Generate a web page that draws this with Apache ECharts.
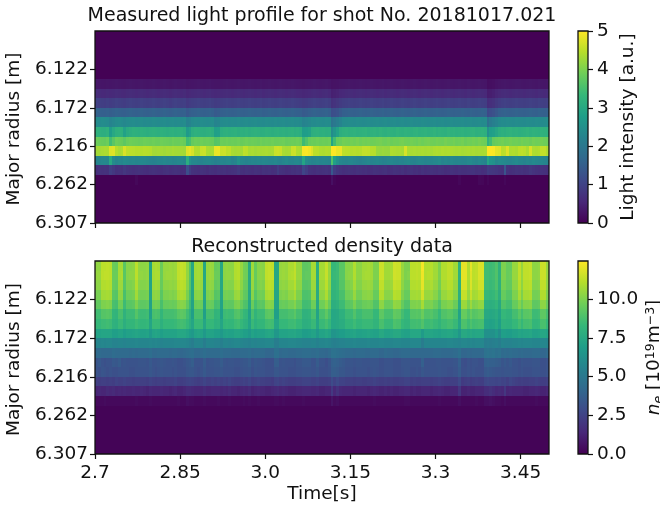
<!DOCTYPE html>
<html><head><meta charset="utf-8"><style>html,body{margin:0;padding:0;background:#fff}#c{width:660px;height:508px}</style>
<script src="https://cdn.jsdelivr.net/npm/echarts@6/dist/echarts.min.js"></script></head><body><div id="c"></div>
<script>
const viridis=['#440154','#482878','#3e4989','#31688e','#26828e','#1f9e89','#35b779','#6ece58','#b5de2b','#fde725'];
// measured light, one list per radial row that varies, in 0.01 a.u.
const lightFloorTop=2, lightFloorBottom=1;
const light5=[31,30,29,28,30,29,30,31,30,29,28,30,31,30,29,30,31,30,29,30,31,30,29,30,31,30,28,30,31,30,29,30,27,28,29,30,31,30,29,30,31,29,28,28,29,30,31,30,29,30,31,30,29,30,31,30,29,30,31,29,30,31,30,29,30,31,30,29,30,31,30,29,28,27,28,29,30,31,30,29,30,31,29,24,25,26,28,29,30,31,30,29,30,31,30,29,30,31,30,29,30,31,29,30,31,30,29,30,31,30,29,30,31,30,29,30,31,30,29,30,31,30,29,30,31,30,29,30,31,30,29,31,30,29,30,31,30,29,19,20,22,26,28,30,31,30,29,30,31,31,30,29,30,31,30,29,31,30,29,30];
const light6=[62,60,58,57,60,58,59,62,60,58,57,60,62,60,58,60,62,60,58,60,62,60,58,60,62,60,57,60,62,60,58,60,54,57,59,60,62,60,58,60,62,58,56,57,59,60,62,60,58,60,62,60,58,60,62,60,58,60,62,58,60,62,60,58,60,62,60,58,60,62,60,58,57,54,56,58,60,62,60,58,60,62,58,44,47,50,56,58,60,62,60,58,60,62,60,58,60,62,60,58,60,62,58,60,62,60,58,60,62,60,58,60,62,60,58,60,62,60,58,60,62,60,58,60,62,60,58,60,62,60,58,62,60,58,60,62,60,58,40,42,46,52,57,60,62,60,58,60,62,60,60,58,60,62,60,58,62,60,58,60];
const light7=[97,95,92,90,95,90,93,97,95,92,90,95,97,95,92,95,97,95,92,95,97,95,92,95,97,95,90,95,97,95,92,95,84,90,93,95,97,95,92,95,97,92,88,90,93,95,97,95,92,95,97,95,92,95,97,95,92,95,97,92,95,97,95,92,95,97,95,92,95,97,95,92,90,86,88,92,95,97,95,92,95,97,92,70,74,80,88,92,95,97,95,92,95,97,95,92,95,97,95,92,95,97,92,95,97,95,92,95,97,95,92,95,97,95,92,95,97,95,92,95,97,95,92,95,97,95,92,95,97,95,92,97,95,92,95,97,95,92,64,68,72,82,90,95,97,95,92,95,97,95,95,92,95,97,95,92,97,95,92,95];
const light8=[158,155,152,150,155,148,152,158,155,152,150,155,158,155,152,155,158,155,152,155,158,155,152,155,158,155,150,155,158,155,152,155,140,148,152,155,158,155,152,155,158,152,142,145,152,155,158,155,152,155,158,155,152,155,158,155,152,155,158,152,155,158,155,152,155,158,155,152,155,158,155,152,150,142,145,150,155,158,155,152,155,158,150,118,122,128,142,152,155,158,155,152,155,158,155,152,155,158,155,152,155,158,152,155,158,155,152,155,158,155,152,155,158,155,152,155,158,155,152,155,158,155,152,155,158,155,152,155,155,158,155,152,158,155,152,155,158,155,112,118,125,138,150,155,158,155,152,155,158,155,155,152,155,158,155,152,158,155,152,155];
const light9=[240,238,242,240,238,225,232,240,242,238,232,238,240,242,238,240,242,238,240,238,242,240,238,240,242,238,240,242,238,240,238,242,220,225,236,240,238,242,240,238,240,242,225,228,238,240,242,238,240,238,242,238,240,242,238,240,242,238,240,238,242,240,238,242,238,240,242,238,240,242,238,240,236,222,226,232,240,238,242,240,238,242,240,190,200,212,225,238,240,242,240,238,242,240,238,240,242,238,240,242,238,240,242,238,240,242,238,240,242,238,240,242,238,240,238,242,240,238,240,242,238,240,242,238,240,242,238,240,240,242,238,240,242,238,240,242,238,240,185,205,215,225,236,240,238,242,240,238,242,240,240,238,242,240,238,242,240,238,240,242];
const light10=[318,315,312,310,318,275,300,315,318,316,285,305,312,318,316,314,318,316,312,315,318,316,314,318,315,312,316,318,314,315,318,312,270,285,312,318,316,314,312,315,318,312,280,282,310,315,318,314,316,318,312,316,314,318,312,315,318,316,312,314,318,315,312,316,318,314,315,312,316,318,312,315,310,275,278,285,312,316,318,314,316,312,314,240,262,285,312,318,320,316,318,320,316,318,320,322,316,318,320,316,322,318,316,320,318,316,322,318,316,320,318,316,320,322,316,318,320,316,318,322,316,320,318,316,322,318,320,316,318,320,316,318,320,322,316,318,320,316,250,278,282,295,310,316,312,318,320,316,318,314,316,318,322,316,320,318,316,320,318,316];
const light11=[388,385,382,380,386,345,370,388,385,382,372,384,388,386,385,382,384,388,386,385,388,385,384,388,386,385,382,388,385,384,388,384,342,352,380,386,384,388,385,386,384,382,365,368,386,385,388,384,386,385,388,382,385,388,384,386,385,382,388,384,386,385,388,384,385,386,388,382,384,386,385,388,384,340,360,382,386,385,388,384,386,385,388,290,345,380,384,392,390,388,392,390,394,388,392,390,392,388,390,392,394,390,388,392,386,390,388,392,394,390,388,392,390,386,392,388,392,394,390,388,392,390,388,394,390,388,392,386,388,392,385,390,388,392,388,394,390,386,320,345,380,385,388,392,386,388,392,388,390,386,392,388,390,385,392,388,390,392,388,386];
const light12=[430,432,435,438,436,475,478,445,435,440,472,452,450,448,445,446,444,447,445,443,432,430,433,431,428,432,430,434,431,430,432,429,475,482,470,442,440,460,462,437,434,436,485,487,460,462,450,452,436,433,435,432,452,450,434,436,432,435,433,434,436,433,435,460,462,458,436,433,435,460,462,440,438,495,497,490,475,450,448,440,438,442,440,500,500,485,485,452,450,448,445,447,444,446,455,456,454,446,445,422,420,423,421,420,440,438,435,436,433,470,436,434,436,433,435,437,434,436,433,438,440,438,441,439,440,438,436,434,436,433,435,437,434,436,433,435,434,436,500,502,498,480,478,450,452,475,440,442,438,450,452,448,436,470,440,438,442,455,456,440];
const light13=[225,228,232,235,230,300,240,225,232,228,238,235,230,232,228,230,235,232,228,225,222,225,230,228,232,226,230,225,228,232,235,228,310,250,235,232,228,225,230,232,235,228,220,225,230,228,232,235,222,228,252,230,226,222,228,232,230,235,228,232,230,226,228,232,225,222,230,236,228,226,232,235,228,290,240,232,225,228,232,226,230,228,224,360,280,250,232,228,225,230,232,226,222,218,224,228,232,226,230,235,228,222,225,230,232,228,224,230,226,232,236,228,225,230,234,232,226,230,228,232,235,240,226,232,228,234,230,228,230,226,228,234,240,232,226,236,230,222,290,258,252,230,240,236,232,228,226,232,238,230,230,225,232,228,236,230,226,232,228,225];
const light14=[68,72,70,72,70,92,82,70,72,70,80,72,70,68,70,72,70,68,66,70,72,70,68,66,70,72,68,70,72,70,66,68,120,88,72,70,68,72,70,66,72,70,68,72,70,72,68,70,72,74,82,70,68,72,70,68,72,70,66,72,70,72,68,70,88,72,70,66,68,72,70,74,72,105,90,72,70,68,72,70,72,74,70,140,90,78,72,68,70,72,70,68,72,70,68,70,66,68,72,70,68,70,72,66,68,72,70,68,72,66,70,72,68,70,66,72,68,70,72,70,68,72,70,66,68,72,70,68,72,70,70,72,74,76,70,72,68,70,88,82,80,78,72,70,130,72,68,70,74,72,74,70,72,80,74,70,68,72,70,68];
const light15=[2,2,2,2,2,2,2,2,2,2,2,2,2,2,10,2,2,2,2,2,2,2,2,2,2,2,2,2,2,2,2,2,2,2,2,2,2,2,2,2,2,2,2,2,2,2,2,2,2,2,2,2,2,2,2,2,2,2,2,2,2,2,2,2,2,2,2,2,2,2,2,2,2,2,2,2,2,2,2,2,2,2,2,22,6,2,2,2,2,2,2,2,2,2,2,2,2,2,2,2,2,2,2,2,2,2,2,2,2,2,2,2,2,2,2,2,2,2,2,2,2,2,2,2,2,2,2,2,9,2,2,2,2,2,2,10,8,2,8,2,2,2,2,2,9,2,2,2,2,2,2,2,2,2,2,2,2,2,2,2];
// reconstructed density, one list per radial row that varies, in 10^18 m^-3
const ne0=[104,104,112,112,113,112,96,95,108,108,92,102,102,103,112,104,103,103,104,72,108,109,108,96,105,105,106,105,106,113,114,113,104,92,74,107,108,107,74,105,106,105,95,96,74,103,104,103,103,110,111,105,98,97,76,107,95,102,103,102,113,114,113,74,74,105,106,105,109,109,113,105,105,93,93,94,108,108,78,108,108,114,105,83,83,85,92,92,102,102,103,110,103,103,107,107,108,107,100,100,115,115,107,107,108,116,115,115,105,100,100,112,112,113,112,123,110,110,111,107,107,100,110,110,113,113,107,107,80,120,120,110,120,112,113,118,118,86,86,85,86,90,80,100,100,95,95,105,105,113,105,113,113,114,103,103,104,115,115,105];
const ne1=[105,105,112,113,113,112,96,96,108,109,92,102,103,103,112,104,104,103,104,72,108,109,109,96,105,106,106,105,106,113,114,113,104,92,74,107,108,107,74,105,106,105,96,96,74,103,104,104,103,110,111,105,98,97,76,107,95,102,103,102,113,114,114,74,74,105,106,105,109,110,113,105,105,93,94,94,108,108,78,108,108,114,105,83,84,85,92,92,102,103,103,110,103,103,107,108,108,107,100,100,115,115,107,107,108,116,115,115,105,100,101,112,112,113,112,122,110,111,111,107,107,100,110,110,113,113,107,107,80,120,120,110,119,112,113,118,118,86,86,85,86,90,80,100,100,95,96,105,105,113,105,113,113,114,103,103,104,115,115,105];
const ne2=[103,103,110,110,111,110,95,94,106,106,91,100,100,101,110,102,101,101,102,72,106,107,106,95,103,103,104,103,104,111,112,111,102,91,74,105,106,105,74,103,104,103,94,95,74,101,102,101,101,108,109,103,96,95,76,105,94,100,101,100,111,112,111,74,74,103,104,103,107,107,111,103,103,92,92,93,106,106,77,106,106,112,103,82,82,84,91,91,100,100,101,108,101,101,105,105,106,105,98,98,113,113,105,105,106,114,113,113,103,98,98,110,110,111,110,120,108,108,109,105,105,98,108,108,111,111,105,105,79,118,118,108,118,110,111,116,116,85,85,84,85,89,79,98,98,94,94,103,103,111,103,111,111,112,101,101,102,113,113,103];
const ne3=[99,99,107,107,108,107,92,91,103,103,88,97,97,98,107,99,98,98,99,72,103,104,103,92,100,100,101,100,101,108,109,108,99,88,73,102,103,102,73,100,101,100,91,92,73,98,99,98,98,105,106,100,94,93,75,102,91,97,98,97,108,109,108,73,73,100,101,100,104,104,108,100,100,89,89,90,103,103,76,103,103,109,100,81,81,83,88,88,97,97,98,105,98,98,102,102,103,102,95,95,110,110,102,102,103,111,110,110,100,95,95,107,107,108,107,116,105,105,106,102,102,95,105,105,108,108,102,102,78,114,114,105,114,107,108,112,112,83,83,82,83,86,78,95,95,91,91,100,100,108,100,108,108,109,98,98,99,110,110,100];
const ne4=[94,94,100,100,101,100,88,87,97,97,85,92,92,93,100,94,93,93,94,71,97,98,97,88,95,95,96,95,96,101,102,101,94,85,72,96,97,96,72,95,96,95,87,88,72,93,94,93,93,99,100,95,90,89,74,96,87,92,93,92,101,102,101,72,72,95,96,95,98,98,101,95,95,86,86,87,97,97,75,97,97,102,95,78,78,80,85,85,92,92,93,99,93,93,96,96,97,96,90,90,103,103,96,96,97,104,103,103,95,90,90,100,100,101,100,108,99,99,100,96,96,90,99,99,101,101,96,96,76,106,106,99,106,100,101,104,104,79,79,78,79,82,75,90,90,87,87,95,95,101,95,101,101,102,93,93,94,103,103,95];
const ne5=[86,86,91,91,92,91,82,81,88,88,80,85,85,85,91,86,85,85,86,70,88,89,88,82,87,87,87,87,88,92,93,92,86,80,70,88,88,88,70,87,87,87,81,82,70,85,86,85,85,90,91,87,83,82,71,88,81,85,85,85,92,93,92,70,70,87,87,87,89,89,92,87,87,80,80,81,88,88,72,88,88,93,87,74,74,75,79,79,85,85,85,90,85,85,88,88,88,88,83,83,93,93,88,88,88,94,93,93,87,83,83,91,91,92,91,96,90,90,91,88,88,83,90,90,92,92,88,88,72,95,95,90,95,91,92,94,94,75,75,74,75,77,72,83,83,81,81,87,87,92,87,92,92,93,85,85,86,93,93,87];
const ne6=[83,83,85,85,86,85,80,79,84,84,78,82,82,82,85,83,82,82,83,73,84,84,84,79,83,83,83,83,84,86,87,86,83,78,73,84,84,84,73,83,83,83,79,80,73,82,83,82,82,85,86,83,80,79,72,84,79,82,82,82,86,87,86,73,73,83,83,83,85,85,86,83,83,78,78,79,84,84,73,84,84,87,83,74,74,75,77,77,82,82,82,85,82,82,84,84,84,84,81,81,88,88,84,84,84,89,88,88,83,81,81,86,86,87,86,90,85,85,86,84,84,81,85,85,87,87,84,84,73,89,89,85,89,86,87,88,88,72,72,71,72,75,70,80,80,79,79,83,83,87,83,87,87,88,82,82,83,88,88,83];
const ne7=[72,72,73,73,73,73,70,70,72,72,69,71,71,72,73,72,71,71,72,67,72,73,72,70,72,72,72,72,72,74,74,74,72,69,67,72,73,72,67,72,72,72,70,70,67,71,72,71,71,73,73,72,70,70,67,72,70,71,71,71,73,74,73,66,66,72,72,72,73,73,74,72,72,69,69,70,72,72,67,72,72,74,72,65,65,67,69,69,71,71,72,73,71,71,72,72,73,72,71,71,75,75,72,72,73,75,75,75,72,71,71,74,74,74,74,68,73,73,73,72,72,71,73,73,74,74,72,72,66,75,75,73,75,73,74,74,74,63,63,63,63,67,61,70,70,69,69,71,71,73,72,73,73,74,71,71,72,74,74,72];
const ne8=[57,57,58,57,58,58,56,56,57,57,56,57,57,57,58,57,57,57,57,58,57,58,57,56,57,57,57,57,58,58,58,58,57,55,53,57,57,57,53,57,57,57,56,56,54,57,57,56,57,58,58,57,56,56,55,57,56,57,57,57,58,58,58,53,53,57,57,57,58,58,58,57,57,56,56,56,57,57,55,57,57,58,57,55,54,55,56,56,57,57,57,58,57,57,57,57,58,57,57,57,58,58,57,57,57,58,58,58,57,57,57,58,58,58,58,52,57,57,57,57,57,57,57,57,58,58,57,57,56,58,58,57,58,57,58,58,58,53,54,53,54,55,53,57,56,56,56,57,57,58,57,58,58,58,57,57,57,58,58,57];
const ne9=[43,43,42,42,42,42,44,43,43,43,43,43,42,43,42,43,43,43,43,45,42,42,43,43,43,43,42,43,43,42,41,42,43,44,45,42,42,43,45,43,43,43,43,43,45,43,43,43,42,42,42,43,43,43,44,42,43,43,43,43,41,41,41,46,46,42,43,43,42,42,42,43,43,44,44,44,43,43,44,42,42,41,43,47,47,46,45,44,43,43,43,42,43,43,43,42,42,43,43,43,41,41,43,42,42,41,41,42,43,43,43,42,42,42,42,42,42,42,42,43,43,43,42,42,42,42,43,43,46,41,41,42,41,42,42,42,42,47,48,47,48,46,47,43,44,43,44,43,43,42,43,42,42,42,43,43,43,41,41,43];
const ne10=[33,35,32,31,32,32,35,34,36,32,33,32,32,32,32,33,33,33,32,35,32,32,33,34,33,32,32,33,32,31,31,32,34,35,37,32,32,32,36,32,33,33,34,34,36,33,32,33,33,32,32,33,34,34,36,32,34,33,33,32,31,31,31,37,37,32,33,32,32,32,31,33,33,35,35,35,32,32,36,32,32,30,33,38,39,38,36,35,33,33,33,32,33,33,32,32,32,33,33,33,31,31,32,32,32,31,31,31,33,33,33,32,32,32,32,38,32,32,32,32,33,33,32,32,32,32,33,33,38,31,30,32,31,32,32,31,31,38,39,38,38,37,36,33,35,33,35,32,32,31,33,32,32,32,33,33,33,31,31,32];
const ne11=[32,31,33,32,31,32,31,31,32,32,32,32,31,31,32,32,32,32,32,34,32,31,32,33,32,32,32,31,32,31,31,31,33,34,34,32,31,32,35,32,32,32,33,33,34,32,32,32,32,31,31,32,33,33,34,31,33,32,32,32,31,31,31,34,34,32,32,32,31,31,31,32,32,33,33,33,32,32,34,31,31,31,32,37,37,36,34,34,32,32,32,31,32,32,32,32,31,32,33,32,31,31,32,32,32,31,31,31,32,33,33,31,31,32,31,34,32,32,32,32,32,33,32,32,31,31,32,32,36,31,31,32,31,32,31,31,31,35,36,35,34,33,33,32,33,33,33,32,32,31,32,31,31,31,32,32,32,31,31,32];
const ne12=[24,23,24,24,23,24,23,25,24,24,25,24,24,23,24,24,24,24,23,25,24,23,24,24,23,24,24,24,25,23,23,24,25,26,25,24,23,24,26,24,24,25,24,25,24,25,24,26,24,23,23,24,25,24,26,23,24,25,24,24,23,23,22,25,26,24,25,24,23,23,23,24,24,25,25,25,24,24,25,23,23,23,24,29,25,28,25,25,24,24,24,23,24,24,23,23,24,24,25,24,23,23,24,23,24,23,23,24,24,25,25,23,24,23,23,24,24,24,23,24,24,25,24,23,23,24,24,24,28,22,23,24,22,23,24,23,23,27,28,27,27,26,27,25,26,24,27,25,24,23,24,23,23,24,24,25,24,23,23,24];
const ne13=[13,14,13,13,15,14,15,13,14,13,14,13,13,14,13,13,14,13,12,14,13,13,13,14,13,13,12,13,14,12,12,13,15,15,14,13,13,13,15,13,13,14,14,14,13,14,13,15,13,13,12,13,14,13,15,12,13,14,13,13,12,12,13,14,15,13,14,13,12,12,12,13,13,14,14,14,13,13,14,12,12,13,13,21,14,18,14,13,13,13,13,12,13,13,13,13,12,13,14,13,12,12,13,12,13,12,12,13,13,14,14,12,13,12,12,13,13,13,12,13,13,14,13,12,12,13,13,13,20,12,12,13,12,12,13,13,13,16,16,18,16,14,15,14,20,13,14,13,13,13,13,12,12,13,13,14,13,12,12,13];
const ne14=[3,3,3,4,3,3,3,3,3,3,3,3,3,3,4,3,3,3,3,4,3,3,3,3,3,3,3,3,3,4,3,3,5,4,4,3,3,3,4,3,3,3,3,4,3,3,3,4,3,3,3,3,4,3,4,3,3,4,3,3,3,3,3,4,4,3,4,3,3,3,3,3,3,4,3,3,3,3,3,3,3,3,3,7,4,5,3,3,3,3,3,3,3,3,3,3,3,3,4,3,3,3,3,3,3,3,3,3,3,4,4,3,3,3,3,3,3,3,3,3,3,4,3,3,3,3,3,3,5,3,3,3,3,3,4,3,3,5,5,6,5,4,4,3,5,3,3,3,3,3,3,3,3,3,3,4,3,3,3,3];
const neFloor=1;
const radiusTickLabels=['6.122','6.172','6.216','6.262','6.307'];
const radiusTickRows=[4,8,12,16,20];
const timeTicks=[2.7,2.85,3.0,3.15,3.3,3.45];
const timeLabels=['2.7','2.85','3.0','3.15','3.3','3.45'];
const lightTicks=[0,1,2,3,4,5];
const neTicks=[0,2.5,5,7.5,10];
const lightMax=5, neMax=12.47;

const nCols=160,F='"DejaVu Sans"',FS=18.5,TC='#111';
const cols=Array.from({length:nCols},(_,i)=>i),rows=Array.from({length:20},(_,i)=>i);
const flat=v=>Array(nCols).fill(v);
const lightRows=[flat(lightFloorTop),flat(lightFloorTop),flat(lightFloorTop),flat(lightFloorTop),flat(lightFloorTop),light5,light6,light7,light8,light9,light10,light11,light12,light13,light14,light15,flat(lightFloorBottom),flat(lightFloorBottom),flat(lightFloorBottom),flat(lightFloorBottom)];
const neRows=[ne0,ne1,ne2,ne3,ne4,ne5,ne6,ne7,ne8,ne9,ne10,ne11,ne12,ne13,ne14,flat(neFloor),flat(neFloor),flat(neFloor),flat(neFloor),flat(neFloor)];
function cells(table,s){const o=[];table.forEach((row,r)=>row.forEach((v,c)=>o.push([c,r,v*s])));return o;}
const chart=echarts.init(document.getElementById('c'),null,{renderer:'canvas'});
const G=[{left:95,width:454,top:31,height:192},{left:95,width:454,top:261,height:193},
 {left:578,width:10,top:31,height:192},{left:578,width:10,top:261,height:193}];
const line={lineStyle:{color:'#111',width:1.2}};
const frame=G.map(g=>({...g,show:true,borderColor:'#111',borderWidth:1.3,backgroundColor:'transparent',z:5,outerBoundsMode:'none'}));
function grad(){return new echarts.graphic.LinearGradient(0,1,0,0,viridis.map((c,i)=>({offset:i/9,color:c})));}
const lab={fontFamily:F,fontSize:FS,color:TC};
const xAxis=[
 {gridIndex:0,type:'category',data:cols,axisLine:{show:false},axisTick:{show:false},axisLabel:{show:false}},
 {gridIndex:1,type:'category',data:cols,axisLine:{show:false},axisTick:{show:false},axisLabel:{show:false}},
 {gridIndex:0,type:'value',min:2.7,max:3.5,position:'bottom',splitLine:{show:false},axisLine:{show:false},axisTick:{show:true,length:5,customValues:timeTicks,...line},axisLabel:{show:false}},
 {gridIndex:1,type:'value',min:2.7,max:3.5,position:'bottom',name:'Time[s]',nameLocation:'middle',nameGap:31,nameTextStyle:lab,splitLine:{show:false},axisLine:{show:false},axisTick:{show:true,length:5,customValues:timeTicks,...line},axisLabel:{show:true,customValues:timeTicks,hideOverlap:false,margin:10,...lab,formatter:v=>timeLabels[timeTicks.findIndex(t=>Math.abs(t-v)<1e-6)]}},
 {gridIndex:2,type:'category',data:['c'],show:false},{gridIndex:3,type:'category',data:['c'],show:false}];
function radiusAxis(g){return {gridIndex:g,type:'value',min:0,max:20,inverse:true,position:'left',name:'Major radius [m]',nameLocation:'middle',nameGap:66,nameRotate:90,nameTextStyle:{...lab,padding:[0,4,0,0]},splitLine:{show:false},axisLine:{show:false},axisTick:{show:true,length:5,customValues:radiusTickRows,...line},axisLabel:{show:true,customValues:radiusTickRows,margin:7,padding:[2,0,0,0],...lab,formatter:v=>radiusTickLabels[radiusTickRows.indexOf(v)]}};}
function barAxis(g,max,ticks,fmt,name,gap,rich){return {gridIndex:g,type:'value',min:0,max:max,position:'right',name:name,nameLocation:'middle',nameGap:gap,nameRotate:90,nameTextStyle:{...lab,rich:rich},splitLine:{show:false},axisLine:{show:false},axisTick:{show:true,length:5,customValues:ticks,...line},axisLabel:{show:true,customValues:ticks,margin:9,padding:[2,0,0,0],...lab,formatter:fmt}};}
const r={i:{...lab,fontStyle:'italic'},n:lab,
 sub:{fontFamily:F,fontSize:12.5,fontStyle:'italic',color:TC,padding:[8,0,0,0]},sup:{fontFamily:F,fontSize:12.5,color:TC,padding:[0,0,8,0]}};
const yAxis=[
 {gridIndex:0,type:'category',data:rows,inverse:true,axisLine:{show:false},axisTick:{show:false},axisLabel:{show:false}},
 {gridIndex:1,type:'category',data:rows,inverse:true,axisLine:{show:false},axisTick:{show:false},axisLabel:{show:false}},
 radiusAxis(0),radiusAxis(1),
 barAxis(2,lightMax,lightTicks,v=>String(v),'Light intensity [a.u.]',31),
 barAxis(3,neMax,neTicks,v=>v.toFixed(1),'{i|n}{sub|e} {n|[10}{sup|19}{n|m}{sup|−3}{n|]}',56,r)];
function renderCell(params,api){
 const p=api.coord([api.value(0),api.value(1)]),s=api.size([1,1]),e=1e-6;
 const x0=Math.round(p[0]-s[0]/2+e),x1=Math.round(p[0]+s[0]/2+e),y0=Math.round(p[1]-s[1]/2+e),y1=Math.round(p[1]+s[1]/2+e);
 return {type:'rect',shape:{x:x0,y:y0,width:x1-x0,height:y1-y0},style:{fill:api.visual('color')}};
}
const cellSeries=(i,data)=>({type:'custom',xAxisIndex:i,yAxisIndex:i,data,renderItem:renderCell,encode:{x:0,y:1},silent:true,progressive:0,animation:false});
const T={fontFamily:F,fontSize:19,fontWeight:'normal',color:TC};
chart.setOption({animation:false,textStyle:{fontFamily:F},
 title:[{text:'Measured light profile for shot No. 20181017.021',left:317,top:2,textAlign:'center',textStyle:T},
  {text:'Reconstructed density data',left:317,top:233,textAlign:'center',textStyle:T}],
 grid:frame,xAxis,yAxis,
 visualMap:[{show:false,seriesIndex:0,dimension:2,min:0,max:lightMax,inRange:{color:viridis}},{show:false,seriesIndex:1,dimension:2,min:0,max:neMax,inRange:{color:viridis}}],
 series:[
  cellSeries(0,cells(lightRows,0.01)),
  cellSeries(1,cells(neRows,0.1)),
  {type:'bar',xAxisIndex:4,yAxisIndex:4,data:[lightMax],barWidth:'100%',itemStyle:{color:grad()},silent:true},
  {type:'bar',xAxisIndex:5,yAxisIndex:5,data:[neMax],barWidth:'100%',itemStyle:{color:grad()},silent:true}]});
</script></body></html>
